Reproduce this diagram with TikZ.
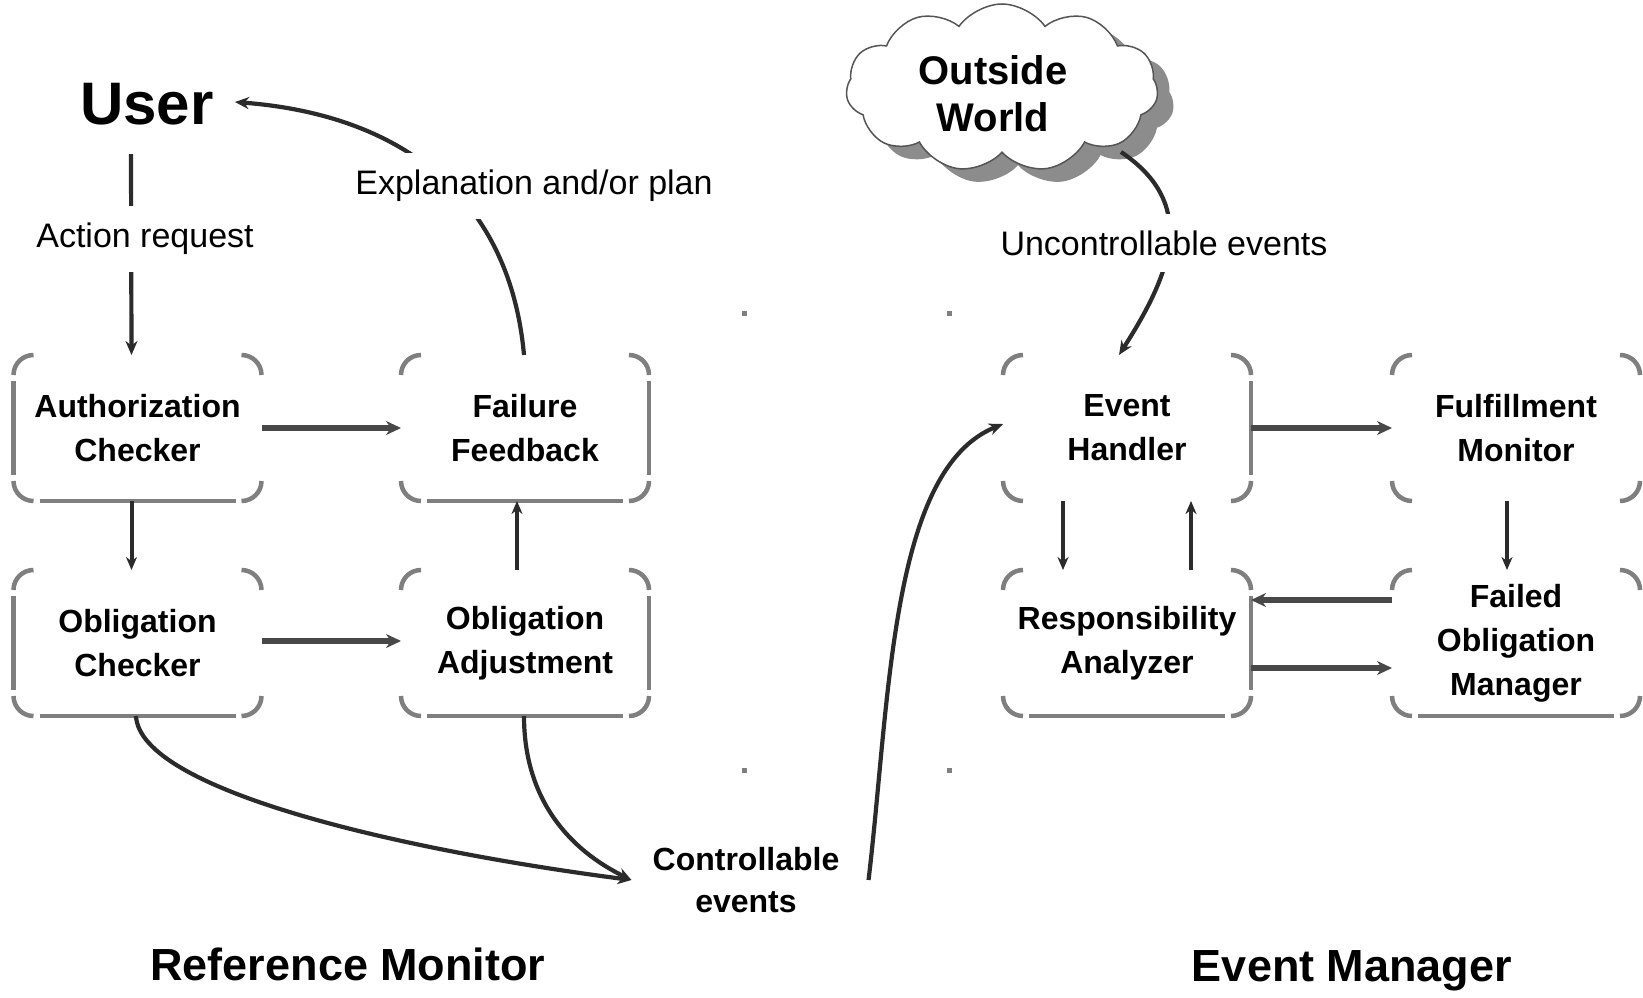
\documentclass[tikz,border=0pt]{standalone}
\usepackage{fontspec}
\setmainfont{Liberation Sans}
\usetikzlibrary{arrows.meta,calc,shapes.symbols,shadows}
\definecolor{boxgray}{HTML}{7F7F7F}
\definecolor{linedark}{HTML}{2B2B2B}
\definecolor{arrgray}{HTML}{484848}
\definecolor{cloudline}{HTML}{555555}
\tikzset{
  comp/.style={rectangle, minimum width=248pt, minimum height=146pt, inner sep=0pt, outer sep=0pt,
    align=center, font=\fontsize{32}{44}\selectfont\bfseries},
  boxline/.style={draw=boxgray, line width=4.5pt},
  conn/.style={draw=linedark, line width=4.2pt, -{Stealth[length=14pt,width=12pt]}},
  vconn/.style={draw=linedark, line width=4pt, -{Stealth[length=13pt,width=11pt]}},
  hconn/.style={draw=arrgray, line width=6pt, -{Stealth[length=15pt,width=14pt]}},
  lbl/.style={font=\fontsize{34}{40}\selectfont, fill=white, inner xsep=4pt, inner ysep=17pt},
  grouptitle/.style={font=\fontsize{45}{50}\selectfont\bfseries},
}
\newcommand{\rr}{20}
\newcommand{\corners}[1]{%
  \draw[boxline,rounded corners=\rr pt] ($(#1.north west)+(0,\rr)$) -- (#1.north west) -- ($(#1.north west)+(\rr,0)$);
  \draw[boxline,rounded corners=\rr pt] ($(#1.north east)+(-\rr,0)$) -- (#1.north east) -- ($(#1.north east)+(0,\rr)$);
  \draw[boxline,rounded corners=\rr pt] ($(#1.south west)+(0,-\rr)$) -- (#1.south west) -- ($(#1.south west)+(\rr,0)$);
  \draw[boxline,rounded corners=\rr pt] ($(#1.south east)+(-\rr,0)$) -- (#1.south east) -- ($(#1.south east)+(0,-\rr)$);}
\newcommand{\ledge}[1]{\draw[boxline] ($(#1.north west)+(0,26)$) -- ($(#1.south west)+(0,-26)$);}
\newcommand{\redge}[1]{\draw[boxline] ($(#1.north east)+(0,26)$) -- ($(#1.south east)+(0,-26)$);}
\newcommand{\bedge}[1]{\draw[boxline] ($(#1.south west)+(26,0)$) -- ($(#1.south east)+(-26,0)$);}
\begin{document}
\begin{tikzpicture}[x=1pt,y=-1pt]
\useasboundingbox (0,0) rectangle (1643,998);
\fill[white] (0,0) rectangle (1643,998);

% boxes
\node[comp] (AC)  at (137.5,428) {Authorization\\Checker};
\node[comp] (OC)  at (137.5,643) {Obligation\\Checker};
\node[comp] (FF)  at (525,428) {Failure\\Feedback};
\node[comp] (OA)  at (525,643) {Obligation\\Adjustment};
\node[comp] (EH)  at (1127,428) {Event\\Handler};
\node[comp] (FM)  at (1516,428) {Fulfillment\\Monitor};
\node[comp] (RA)  at (1127,643) {Responsibility\\Analyzer};
\node[comp] (FOM) at (1516,643) {Failed\\Obligation\\Manager};

\corners{AC}\ledge{AC}\bedge{AC}
\corners{OC}\ledge{OC}\bedge{OC}
\corners{FF}\redge{FF}\bedge{FF}
\corners{OA}\redge{OA}\bedge{OA}
\corners{EH}\redge{EH}
\corners{FM}
\corners{RA}\redge{RA}\bedge{RA}
\corners{FOM}\bedge{FOM}

% user and cloud
\node[font=\fontsize{60}{66}\selectfont\bfseries, inner sep=0pt] (User) at (147,104) {User};
\node[cloud, cloud puffs=11, cloud puff arc=110, aspect=1.8, minimum width=312pt, minimum height=168pt,
  draw=cloudline, line width=1.5pt, fill=white,
  drop shadow={shadow xshift=16pt, shadow yshift=-13pt, fill=black!45, opacity=1}] (cloud) at (1002,88) {};
\node[font=\fontsize{40}{47}\selectfont\bfseries, align=center] (ow) at (993,94) {Outside\\World};

\node[font=\fontsize{32}{42}\selectfont\bfseries, align=center, inner sep=0pt] (CE) at (746,880) {Controllable\\events};

% connectors
\draw[conn] ([xshift=-16pt,yshift=-29pt]User.south) -- ([xshift=-6pt]AC.north);
\node[lbl] (lar) at (145,239) {Action request};

\draw[conn] ([xshift=-1pt]FF.north) .. controls (510,200) and (405,115) .. ([xshift=21pt,yshift=2pt]User.east);
\node[lbl] (lex) at (534,186) {Explanation and/or plan};

\draw[conn] ($(cloud.center)+(119,64)$) .. controls (1200,205) and (1170,275) .. ([xshift=-8pt]EH.north);
\node[lbl] (lun) at (1164,243) {Uncontrollable events};

\draw[hconn] (AC.east) -- (FF.west);
\draw[hconn] ([yshift=2pt]OC.east) -- ([yshift=2pt]OA.west);
\draw[hconn] (EH.east) -- (FM.west);
\draw[hconn] ([yshift=43pt]FOM.west) -- ([yshift=43pt]RA.east);
\draw[hconn] ([yshift=-25pt]RA.east) -- ([yshift=-25pt]FOM.west);

\draw[vconn] ([xshift=-6pt]AC.south) -- ([xshift=-6pt]OC.north);
\draw[vconn] ([xshift=-8pt]OA.north) -- ([xshift=-8pt]FF.south);
\draw[vconn] ([xshift=-64pt]EH.south) -- ([xshift=-64pt]RA.north);
\draw[vconn] ([xshift=64pt]RA.north) -- ([xshift=64pt]EH.south);
\draw[vconn] ([xshift=-9pt]FM.south) -- ([xshift=-9pt]FOM.north);

\draw[conn] ([xshift=-1.5pt]OC.south) .. controls (140,790) and (400,850) .. ([xshift=-21pt]CE.west);
\draw[conn] ([xshift=-1pt]OA.south) .. controls (524,800) and (570,850) .. ([xshift=-21pt]CE.west);
\draw[conn] ([xshift=29pt]CE.east) .. controls (890,700) and (890,470) .. ([yshift=4pt]EH.west);

% small marks
\fill[boxgray] (741.5,310.5) rectangle +(5,5);
\fill[boxgray] (946.5,310.5) rectangle +(5,5);
\fill[boxgray] (741.5,767.5) rectangle +(5,5);
\fill[boxgray] (946.5,767.5) rectangle +(5,5);

% group titles
\node[grouptitle] (rm) at (348,964) {Reference Monitor};
\node[grouptitle] (em) at (1352,971) {Event Manager};
\end{tikzpicture}
\end{document}
